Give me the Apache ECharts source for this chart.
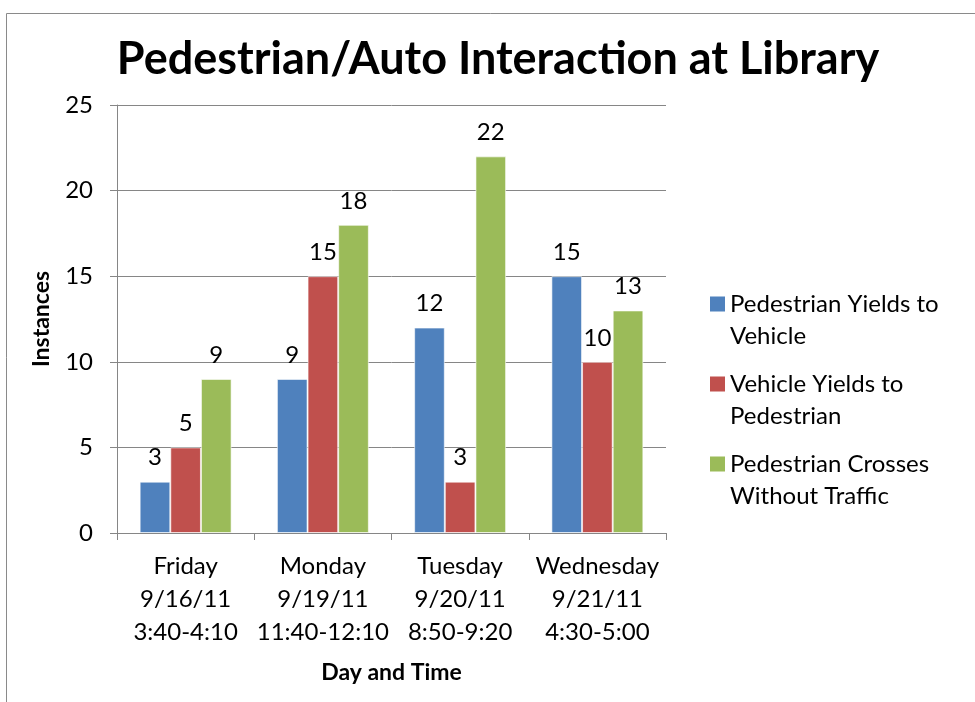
<!DOCTYPE html>
<html>
<head>
<meta charset="utf-8">
<script src="https://cdn.jsdelivr.net/npm/echarts@6/dist/echarts.min.js"></script>
<style>
  html, body { margin: 0; padding: 0; background: #fff; }
  #main { width: 975px; height: 702px; }
</style>
</head>
<body>
<div id="main"></div>
<script>
    'use strict';

    // categories (day, date, time window)
    var categories = [
        'Friday\n9/16/11\n3:40-4:10',
        'Monday\n9/19/11\n11:40-12:10',
        'Tuesday\n9/20/11\n8:50-9:20',
        'Wednesday\n9/21/11\n4:30-5:00'
    ];

    var seriesNames = [
        'Pedestrian Yields to\nVehicle',
        'Vehicle Yields to\nPedestrian',
        'Pedestrian Crosses\nWithout Traffic'
    ];

    var pedYields = [3, 9, 12, 15];
    var vehYields = [5, 15, 3, 10];
    var crossesNoTraffic = [9, 18, 22, 13];

    var yTicks = [0, 5, 10, 15, 20, 25];

    var colors = ['#4F81BD', '#C0504D', '#9BBB59'];
    var fontName = 'Lato';
    var gray = '#868686';

    // square at the top of a taller box so the legend icon sits on the first text line
    var legendIcon = 'path://M0,0L15,0L15,15L0,15Z M0,47L0.01,47';

    function makeSeries(name, data, color) {
        return {
            name: name,
            type: 'bar',
            data: data,
            barGap: '0%',
            barCategoryGap: '33%',
            itemStyle: {
                color: color,
                borderColor: 'rgba(255,255,255,0.6)',
                borderWidth: 1
            },
            label: {
                show: true,
                position: 'top',
                distance: 12,
                color: '#000',
                fontFamily: fontName,
                fontSize: 24
            }
        };
    }

    var chart = echarts.init(document.getElementById('main'), null, { renderer: 'canvas' });

    var option = {
        animation: false,
        backgroundColor: '#fff',
        title: {
            text: 'Pedestrian/Auto Interaction at Library',
            left: 493,
            top: 32,
            textAlign: 'center',
            textStyle: {
                fontFamily: fontName,
                fontWeight: 'bold',
                fontSize: 45,
                color: '#000'
            }
        },
        graphic: [{
            type: 'polyline',
            shape: { points: [[6.5, 702], [6.5, 13.5], [975, 13.5]] },
            style: { stroke: '#8a8a8a', lineWidth: 1, fill: null },
            silent: true
        }],
        legend: {
            orient: 'vertical',
            left: 705,
            top: 283,
            itemWidth: 15,
            itemHeight: 47,
            itemGap: 16,
            icon: legendIcon,
            itemStyle: { borderWidth: 0 },
            data: seriesNames,
            textStyle: {
                fontFamily: fontName,
                fontSize: 24,
                color: '#000',
                lineHeight: 32
            }
        },
        grid: {
            left: 117,
            right: 309,
            top: 105,
            bottom: 169,
            containLabel: false
        },
        xAxis: {
            type: 'category',
            data: categories,
            name: 'Day and Time',
            nameLocation: 'middle',
            nameGap: 128,
            nameTextStyle: {
                fontFamily: fontName,
                fontWeight: 'bold',
                fontSize: 23,
                color: '#000'
            },
            axisLine: { lineStyle: { color: gray, width: 1 } },
            axisTick: { show: true, length: 7, inside: false, lineStyle: { color: gray } },
            axisLabel: {
                interval: 0,
                color: '#000',
                fontFamily: fontName,
                fontSize: 24,
                lineHeight: 33,
                margin: 17
            }
        },
        yAxis: {
            type: 'value',
            min: yTicks[0],
            max: yTicks[yTicks.length - 1],
            interval: 5,
            name: 'Instances',
            nameLocation: 'middle',
            nameRotate: 90,
            nameGap: 64,
            nameTextStyle: {
                fontFamily: fontName,
                fontWeight: 'bold',
                fontSize: 23,
                color: '#000'
            },
            axisLine: { show: true, lineStyle: { color: gray, width: 1 } },
            axisTick: { show: true, length: 7, inside: false, lineStyle: { color: gray } },
            splitLine: { show: true, lineStyle: { color: gray, width: 1 } },
            axisLabel: {
                color: '#000',
                fontFamily: fontName,
                fontSize: 24,
                margin: 24
            }
        },
        series: [
            makeSeries(seriesNames[0], pedYields, colors[0]),
            makeSeries(seriesNames[1], vehYields, colors[1]),
            makeSeries(seriesNames[2], crossesNoTraffic, colors[2])
        ]
    };

    chart.setOption(option);
</script>
</body>
</html>
